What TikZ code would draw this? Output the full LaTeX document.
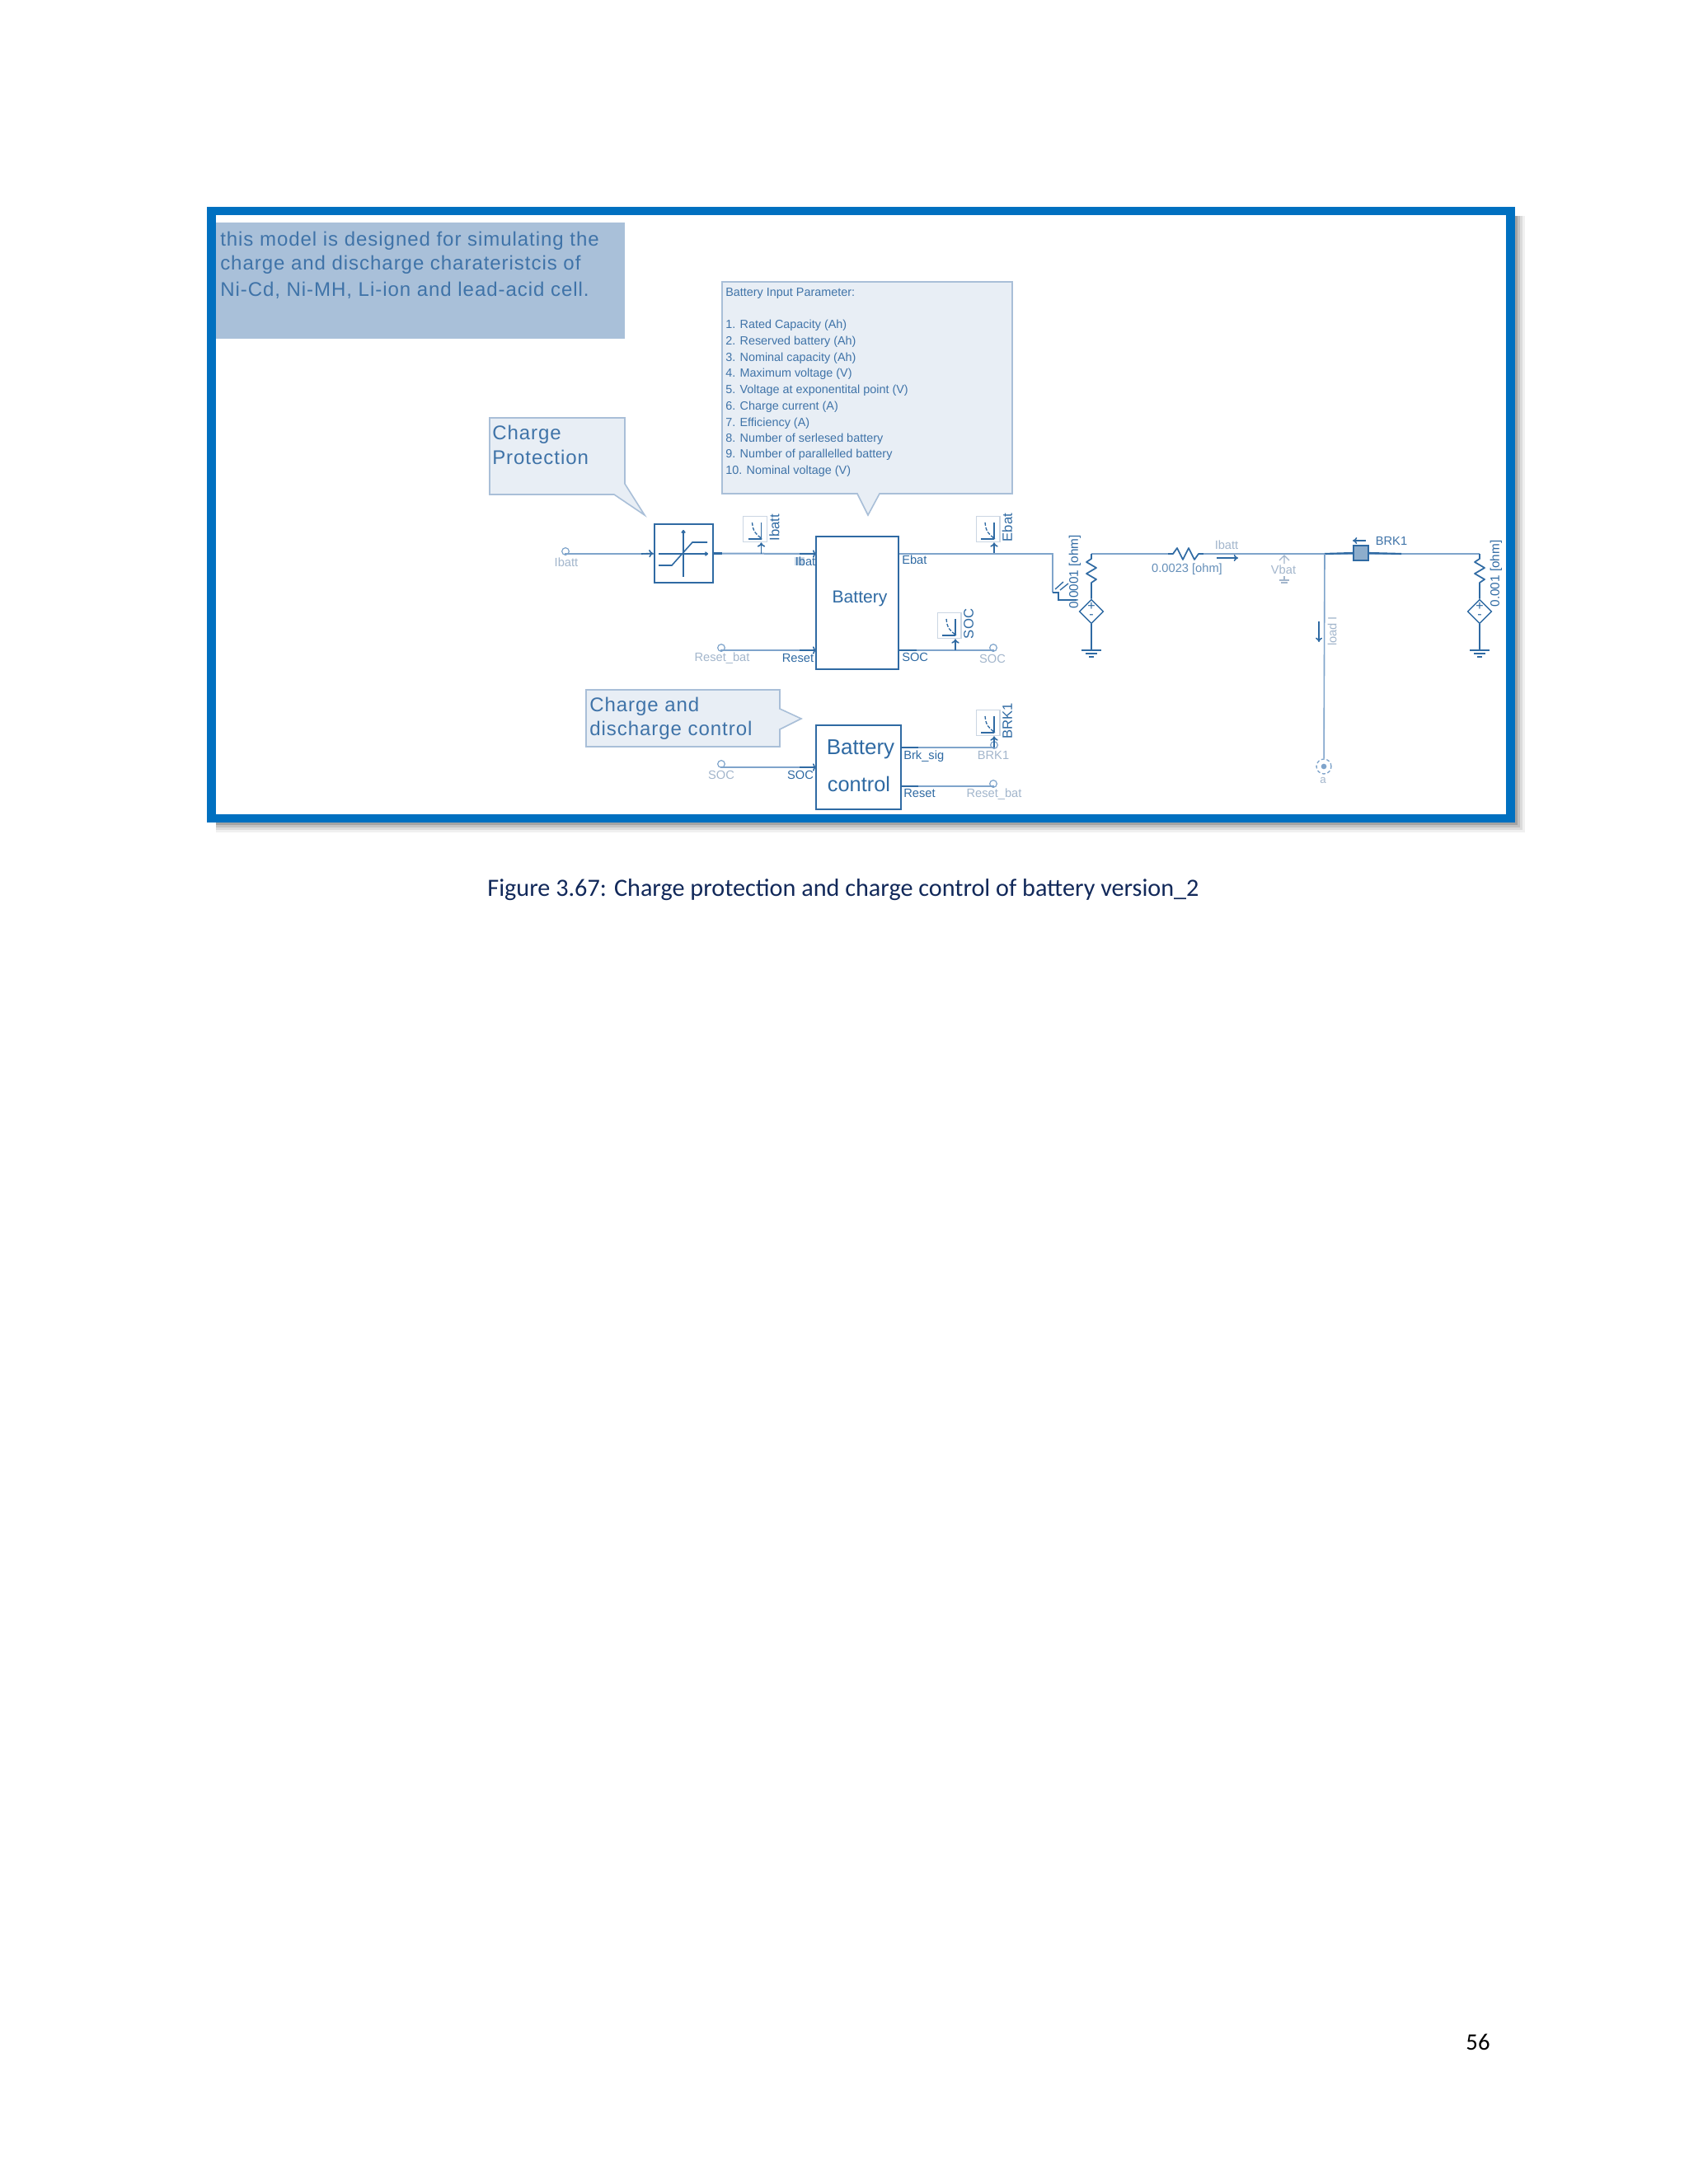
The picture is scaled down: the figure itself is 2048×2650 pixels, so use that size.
\documentclass[tikz,border=0pt]{standalone}
\usepackage{fontspec}
\setmainfont{Liberation Sans}
\newfontfamily\calibrifont{Carlito}
\newfontfamily\notefont[LetterSpace=4]{Liberation Sans}
\usetikzlibrary{arrows.meta,shapes.geometric}
\definecolor{framec}{HTML}{0070C0}
\definecolor{blk}{HTML}{2F6AA3}
\definecolor{wirec}{HTML}{7FA4CB}
\definecolor{txtc}{HTML}{3F73A8}
\definecolor{grayt}{HTML}{A3B6CC}
\definecolor{boxfill}{HTML}{E8EEF5}
\definecolor{boxedge}{HTML}{A9BFD8}
\definecolor{notefill}{HTML}{A9C0D9}
\definecolor{metedge}{HTML}{CBD6E3}
\definecolor{capc}{HTML}{12295A}
\newcommand{\fspx}[1]{\fontsize{#1}{#1}\selectfont}
\tikzset{
  wire/.style={draw=wirec,line width=1.5pt},
  stub/.style={draw=blk,line width=1.6pt},
  block/.style={draw=blk,line width=1.5pt,fill=white,inner sep=0pt,align=center,text=blk},
  glyph/.style={draw=blk,line width=1.2pt},
  callout/.style={draw=boxedge,fill=boxfill,line width=1.2pt},
  note/.style={anchor=west,inner sep=0pt,text=txtc,font={\notefont\fspx{18}}},
  param/.style={anchor=west,inner sep=0pt,text=txtc,font=\fspx{10.8}},
  portl/.style={inner sep=0pt,text=blk,font=\fspx{11}},
  grayl/.style={inner sep=0pt,text=grayt,font=\fspx{11}},
  terminal/.style={circle,draw=wirec,fill=white,line width=.9pt,inner sep=0pt,minimum size=6.5pt},
  arr/.style={draw=blk,line width=1.2pt,-{To[length=4pt,width=6pt]}},
  zz/.style={draw=blk,line width=1.3pt,line join=round},
  source/.style={diamond,draw=blk,fill=white,line width=1.1pt,aspect=1,inner sep=0pt,minimum width=22pt,minimum height=22pt},
}
% name, x, y of the wire under the meter, text
\newcommand{\meter}[4]{%
 \begin{scope}[shift={(#2,#3)}]
  \coordinate (#1-w) at (0,0);
  \node[draw=metedge,fill=white,line width=1pt,inner sep=0pt,minimum width=21.5pt,minimum height=23.5pt] (#1-box) at (-7.5,-30) {};
  \draw[glyph,line width=1pt] (0,-38) -- (0,-18) (-16,-18) -- (0,-18);
  \draw[glyph,line width=1pt,dash pattern=on 3pt off 1.5pt] (-11,-38) .. controls (-10,-26) and (-6,-24) .. (1,-18);
  \draw[arr,-{To[length=4pt,width=7pt]}] (#1-w) -- (#1-box.south -| #1-w);
  \node[inner sep=0pt,rotate=90,text=blk,font=\fspx{12.5}] (#1-lab) at (16,-32) {#4};
 \end{scope}}
% name, x, y of the top bar
\newcommand{\earth}[3]{%
 \begin{scope}[shift={(#2,#3)}]
  \coordinate (#1) at (0,0);
  \draw[glyph,line width=1.5pt] (-12,0) -- (12,0);
  \draw[glyph] (-7,4) -- (7,4);
  \draw[glyph] (-3,8) -- (3,8);
 \end{scope}}
\begin{document}
\begin{tikzpicture}[x=.75pt,y=-.75pt]
\useasboundingbox (0,0) rectangle (2048,2650);
\fill[white] (0,0) rectangle (2048,2650);
% frame with its soft shadow
\fill[black!6] (262,262) rectangle (1850,1010);
\fill[black!14] (262,262) rectangle (1847,1007);
\fill[black!24] (262,262) rectangle (1844,1004);
\fill[black!36] (262,262) rectangle (1841,1001);
\draw[framec,line width=8pt,fill=white] (256.5,256) rectangle (1832.5,993);
% note
\node[fill=notefill,minimum width=372pt,minimum height=105.75pt,inner sep=0pt] (noteb) at (510,340.5) {};
\node[note] (n1) at (267,292) {this model is designed for simulating the};
\node[note] (n2) at (267,321) {charge and discharge charateristcis of};
\node[note] (n3) at (267,352) {Ni-Cd, Ni-MH, Li-ion and lead-acid cell.};
% callouts
\draw[callout] (594,507) -- (758,507) -- (758,587) -- (782,625) -- (745,600) -- (594,600) -- cycle;
\node[note] (cp1) at (597,527) {Charge};
\node[note] (cp2) at (597,555) {Protection};
\draw[callout] (876,342) -- (1228,342) -- (1228,599) -- (1067,599) -- (1053,625) -- (1040,599) -- (876,599) -- cycle;
\node[param] (p0) at (880,356) {Battery Input Parameter:};
\node[param] (p1) at (880,395) {1. Rated Capacity (Ah)};
\node[param] (p2) at (880,415) {2. Reserved battery (Ah)};
\node[param] (p3) at (880,435) {3. Nominal capacity (Ah)};
\node[param] (p4) at (880,454) {4. Maximum voltage (V)};
\node[param] (p5) at (880,474) {5. Voltage at exponentital point (V)};
\node[param] (p6) at (880,494) {6. Charge current (A)};
\node[param] (p7) at (880,514) {7. Efficiency (A)};
\node[param] (p8) at (880,533) {8. Number of serlesed battery};
\node[param] (p9) at (880,552) {9. Number of parallelled battery};
\node[param] (p10) at (880,572) {10. Nominal voltage (V)};
\draw[callout] (711,837) -- (946,837) -- (946,860) -- (972,872) -- (946,885) -- (946,906) -- (711,906) -- cycle;
\node[note] (cd1) at (715,857) {Charge and};
\node[note] (cd2) at (715,886) {discharge control};
% blocks
\node[block,minimum width=53.6pt,minimum height=53.25pt] (lim) at (829.25,671.5) {};
\node[block,minimum width=75pt,minimum height=120.75pt] (bat) at (1040,731) {};
\node[text=blk,inner sep=0pt,font=\fspx{15.8}] (battxt) at (1043,726) {Battery};
\node[block,minimum width=77pt,minimum height=76.5pt] (ctl) at (1041.5,931) {};
\node[text=blk,inner sep=0pt,font=\fspx{19.5}] (ctl1) at (1044,909) {Battery};
\node[text=blk,inner sep=0pt,font=\fspx{19}] (ctl2) at (1042,951) {control};
% limiter glyph
\draw[glyph,-{To[length=3pt,width=4pt]}] (799,672) -- (859,672);
\draw[glyph,-{To[length=3pt,width=4pt]}] (829,700) -- (829,643);
\draw[glyph] (799,686) -- (815,686) -- (840,658) -- (858,658);
% terminals
\node[terminal] (tIb) at (686,669) {};
\node[terminal] (tRb) at (875,786) {};
\node[terminal] (tSb) at (875,927) {};
\node[terminal] (tSo) at (1205,786) {};
\node[terminal] (tBr) at (1206,904) {};
\node[terminal] (tRo) at (1205,951) {};
\coordinate (pIb) at (990,672);
\coordinate (pEb) at (1091,672);
\coordinate (pRe) at (990,789);
\coordinate (pSo) at (1091,789);
\coordinate (pSc) at (990,931);
\coordinate (pBr) at (1093,907);
\coordinate (pRs) at (1093,954);
\coordinate (aLim) at (778,672);
\coordinate (aIb) at (970,672);
\coordinate (aRe) at (970,789);
\coordinate (aSc) at (970,931);
% wires on the left and centre
\draw[wire] (tIb) -- (tIb |- lim.west) -- (lim.west);
\draw[arr,-{To[length=4pt,width=7pt]}] (aLim) -- (lim.west);
\draw[wire] (lim.east) -- (pIb);
\draw[stub] (lim.east) -- ++(10,0);
\draw[arr,-{To[length=3pt,width=7pt]}] (aIb) -- (pIb);
\draw[wire] (tRb) -- (tRb |- pRe) -- (pRe);
\draw[arr,-{To[length=3pt,width=7pt]}] (aRe) -- (pRe);
\draw[wire] (tSb) -- (tSb |- pSc) -- (pSc);
\draw[arr,-{To[length=3pt,width=7pt]}] (aSc) -- (pSc);
\draw[wire] (pSo) -- (tSo |- pSo) -- (tSo);
\draw[stub] (pSo) -- ++(21,0);
\draw[wire] (pBr) -- (tBr |- pBr) -- (tBr);
\draw[stub] (pBr) -- ++(21,0);
\draw[wire] (pRs) -- (tRo |- pRs) -- (tRo);
\draw[stub] (pRs) -- ++(21,0);
\draw[stub] (pEb) -- ++(14,0);
% meters
\meter{mI}{923.5}{672}{Ibatt}
\meter{mE}{1206}{672}{Ebat}
\meter{mS}{1159}{789}{SOC}
\meter{mB}{1206}{907}{BRK1}
% labels
\node[grayl] (lIb) at (687,682) {Ibatt};
\node[grayl] (lRb) at (876,799) {Reset\_bat};
\node[portl] (lRe) at (968,799) {Reset};
\node[fill=boxedge!60,inner sep=0pt,minimum width=9pt,minimum height=8pt] (lIbbg) at (970,681) {};
\node[portl] (lIt) at (977,681) {Ibat};
\node[portl,anchor=west] (lEb) at (1094,679) {Ebat};
\node[portl,anchor=west] (lSo) at (1094,797) {SOC};
\node[grayl] (lSg) at (1204,799) {SOC};
\node[grayl] (lSb) at (875,940) {SOC};
\node[portl] (lSc) at (971,940) {SOC};
\node[portl,anchor=west] (lBs) at (1096,918) {Brk\_sig};
\node[grayl] (lBg) at (1205,916) {BRK1};
\node[portl,anchor=west] (lRs) at (1096,963) {Reset};
\node[grayl] (lRg) at (1206,964) {Reset\_bat};
% right part
\coordinate (c1) at (1277,672);
\coordinate (c2) at (1277,719);
\coordinate (c3) at (1284,719);
\coordinate (c4) at (1284,728);
\coordinate (c5) at (1306,728);
\draw[wire] (pEb) -- (c1) -- (c2);
\draw[glyph] (c2) -- (c3) -- (c4) -- (c5);
\draw[glyph,line width=1pt] (1280,715) -- (1290,706) (1286,716) -- (1296,708);
\node[inner sep=0pt,rotate=90,text=blk,font=\fspx{11.5}] (r1lab) at (1304,694) {0.0001 [ohm]};
\coordinate (e1) at (1324,672);
\coordinate (e2) at (1417,672);
\coordinate (e3) at (1460,672);
\coordinate (j1) at (1607,672);
\coordinate (e4) at (1795,672);
\node[source] (s1) at (1324,742) {};
\node[source] (s2) at (1795,742) {};
\node[inner sep=0pt,text=blk,font=\fspx{12}] (s1p) at (1324,736) {+};
\node[inner sep=0pt,text=blk,font=\fspx{12}] (s1m) at (1324,748) {-};
\node[inner sep=0pt,text=blk,font=\fspx{12}] (s2p) at (1795,736) {+};
\node[inner sep=0pt,text=blk,font=\fspx{12}] (s2m) at (1795,748) {-};
\earth{g1}{1324}{789}
\earth{g2}{1795}{789}
\draw[wire] (e1) -- (e2);
\draw[zz] (e2) -- ++(6,0) -- ++(5,-7) -- ++(7,14) -- ++(7,-14) -- ++(7,14) -- ++(5,-7) -- (e3);
\draw[wire] (e3) -- (j1) -- (e4);
\draw[zz] (e1) -- ++(0,6) -- ++(-6,4) -- ++(12,7) -- ++(-12,7) -- ++(12,7) -- ++(-6,4) -- (s1.north);
\draw[zz] (e4) -- ++(0,6) -- ++(-6,4) -- ++(12,7) -- ++(-12,7) -- ++(12,7) -- ++(-6,4) -- (s2.north);
\draw[glyph] (s1.south) -- (g1);
\draw[glyph] (s2.south) -- (g2);
\node[inner sep=0pt,text=txtc!80,font=\fspx{11}] (r2lab) at (1440,691) {0.0023 [ohm]};
\node[grayl] (lIr) at (1488,661) {Ibatt};
\coordinate (a1) at (1476,677);
\coordinate (a2) at (1502,677);
\draw[arr] (a1) -- (a2);
% Vbat probe
\coordinate (vp) at (1558,674);
\draw[draw=grayt,line width=1pt] (1552,680) -- (vp) -- (1564,680) (vp) -- (1558,684);
\node[grayl] (lVb) at (1557,691) {Vbat};
\draw[draw=grayt,line width=1pt] (1558,699) -- (1558,704) (1552,704) -- (1564,704) (1554,707) -- (1562,707);
% breaker
\node[draw=blk,fill=blk!55,line width=1.4pt,inner sep=0pt,minimum size=13.5pt] (brk) at (1651,671) {};
\draw[stub] (j1) -- (brk.west);
\draw[stub] (brk.east) -- (1700,672);
\coordinate (b1) at (1657,656);
\coordinate (b2) at (1641,656);
\draw[arr] (b1) -- (b2);
\node[inner sep=0pt,text=txtc,font=\fspx{11}] (lBrk) at (1688,656) {BRK1};
\node[inner sep=0pt,rotate=90,text=blk,font=\fspx{11.5}] (r3lab) at (1815,696) {0.001 [ohm]};
% branch to terminal a
\node[circle,draw=wirec,densely dashed,line width=1pt,inner sep=0pt,minimum size=13.5pt,fill=white] (ta) at (1606,930) {};
\node[circle,fill=wirec,inner sep=0pt,minimum size=5pt] (tad) at (1606,930) {};
\node[inner sep=0pt,text=grayt,font=\fspx{10}] (la) at (1605,947) {a};
\draw[draw=wirec,line width=1.2pt] (j1) -- (ta);
\coordinate (d1) at (1600,754);
\coordinate (d2) at (1600,779);
\draw[arr] (d1) -- (d2);
\node[inner sep=0pt,rotate=90,text=grayt,font=\fspx{11}] (lLoad) at (1616,766) {load I};
% caption and page number
\node[inner sep=0pt,text=capc,font={\calibrifont\fspx{22.65}}] (cap) at (1023,1080) {Figure 3.67: Charge protection and charge control of battery version\_2};
\node[inner sep=0pt,text=black,font={\calibrifont\fspx{21.5}}] (pg) at (1793,2478) {56};
\end{tikzpicture}
\end{document}
